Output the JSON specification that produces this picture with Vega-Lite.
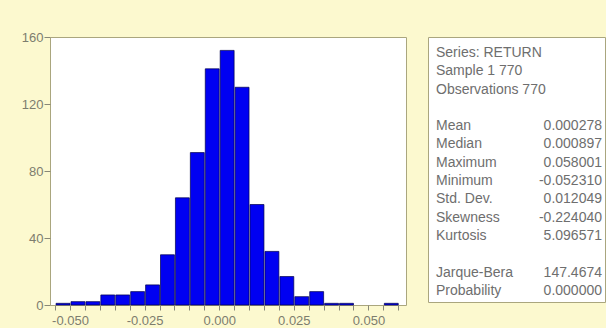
{
  "$schema": "https://vega.github.io/schema/vega-lite/v6.json",
  "autosize": {"type": "pad"},
  "padding": {"left": 20, "top": 30, "right": 0, "bottom": 0},
  "background": "#fcf9cf",
  "bounds": "flush",
  "spacing": 22,
  "config": {
    "font": "Liberation Sans",
    "view": {"stroke": "#aaa67e", "fill": "#ffffff"}
  },
  "datasets": {
    "hist": [
      {"bin_start": -0.055, "bin_end": -0.050, "count": 1},
      {"bin_start": -0.050, "bin_end": -0.045, "count": 2},
      {"bin_start": -0.045, "bin_end": -0.040, "count": 2},
      {"bin_start": -0.040, "bin_end": -0.035, "count": 6},
      {"bin_start": -0.035, "bin_end": -0.030, "count": 6},
      {"bin_start": -0.030, "bin_end": -0.025, "count": 8},
      {"bin_start": -0.025, "bin_end": -0.020, "count": 12},
      {"bin_start": -0.020, "bin_end": -0.015, "count": 30},
      {"bin_start": -0.015, "bin_end": -0.010, "count": 64},
      {"bin_start": -0.010, "bin_end": -0.005, "count": 91},
      {"bin_start": -0.005, "bin_end": 0.000, "count": 141},
      {"bin_start": 0.000, "bin_end": 0.005, "count": 152},
      {"bin_start": 0.005, "bin_end": 0.010, "count": 130},
      {"bin_start": 0.010, "bin_end": 0.015, "count": 60},
      {"bin_start": 0.015, "bin_end": 0.020, "count": 32},
      {"bin_start": 0.020, "bin_end": 0.025, "count": 17},
      {"bin_start": 0.025, "bin_end": 0.030, "count": 5},
      {"bin_start": 0.030, "bin_end": 0.035, "count": 8},
      {"bin_start": 0.035, "bin_end": 0.040, "count": 1},
      {"bin_start": 0.040, "bin_end": 0.045, "count": 1},
      {"bin_start": 0.055, "bin_end": 0.060, "count": 1}
    ],
    "stats": [
      {"line": 0, "label": "Series: RETURN", "value": ""},
      {"line": 1, "label": "Sample 1 770", "value": ""},
      {"line": 2, "label": "Observations 770", "value": ""},
      {"line": 4, "label": "Mean", "value": "0.000278"},
      {"line": 5, "label": "Median", "value": "0.000897"},
      {"line": 6, "label": "Maximum", "value": "0.058001"},
      {"line": 7, "label": "Minimum", "value": "-0.052310"},
      {"line": 8, "label": "Std. Dev.", "value": "0.012049"},
      {"line": 9, "label": "Skewness", "value": "-0.224040"},
      {"line": 10, "label": "Kurtosis", "value": "5.096571"},
      {"line": 12, "label": "Jarque-Bera", "value": "147.4674"},
      {"line": 13, "label": "Probability", "value": "0.000000"}
    ]
  },
  "hconcat": [
    {
      "width": 356,
      "height": 268,
      "data": {"name": "hist"},
      "mark": {"type": "bar", "color": "#0000f2", "stroke": "#00004a", "strokeWidth": 0.7},
      "encoding": {
        "x": {
          "field": "bin_start",
          "type": "quantitative",
          "bin": "binned",
          "scale": {"domain": [-0.0567, 0.0626], "nice": false, "zero": false},
          "axis": {
            "title": null,
            "domain": false,
            "grid": false,
            "values": [-0.055, -0.05, -0.045, -0.04, -0.035, -0.03, -0.025, -0.02, -0.015, -0.01, -0.005, 0, 0.005, 0.01, 0.015, 0.02, 0.025, 0.03, 0.035, 0.04, 0.045, 0.05, 0.055, 0.06],
            "labelExpr": "round(datum.value*1000) % 25 == 0 ? replace(format(datum.value, '.3f'), '−', '-') : ''",
            "tickSize": 5,
            "tickColor": "#888877",
            "labelColor": "#7d7d6e",
            "labelFontSize": 13,
            "labelPadding": 4,
            "labelFlush": false,
            "labelOverlap": false
          }
        },
        "x2": {"field": "bin_end"},
        "y": {
          "field": "count",
          "type": "quantitative",
          "scale": {"domain": [0, 160], "nice": false},
          "axis": {
            "title": null,
            "domain": false,
            "grid": false,
            "values": [0, 40, 80, 120, 160],
            "tickSize": 6,
            "tickColor": "#888877",
            "labelColor": "#7d7d6e",
            "labelFontSize": 13,
            "labelPadding": 1
          }
        }
      }
    },
    {
      "width": 177,
      "height": 265,
      "data": {"name": "stats"},
      "layer": [
        {
          "mark": {"type": "text", "align": "left", "baseline": "middle", "dx": 8, "fontSize": 14, "color": "#6e6e6e"},
          "encoding": {
            "x": {"datum": 0, "type": "quantitative", "scale": {"domain": [0, 1]}, "axis": null},
            "y": {"field": "line", "type": "quantitative", "scale": {"domain": [-0.874, 13.61], "reverse": true, "nice": false, "zero": false}, "axis": null},
            "text": {"field": "label"}
          }
        },
        {
          "mark": {"type": "text", "align": "right", "baseline": "middle", "dx": -3, "fontSize": 14, "color": "#6e6e6e"},
          "encoding": {
            "x": {"datum": 1, "type": "quantitative", "scale": {"domain": [0, 1]}, "axis": null},
            "y": {"field": "line", "type": "quantitative", "axis": null},
            "text": {"field": "value"}
          }
        }
      ]
    }
  ]
}
